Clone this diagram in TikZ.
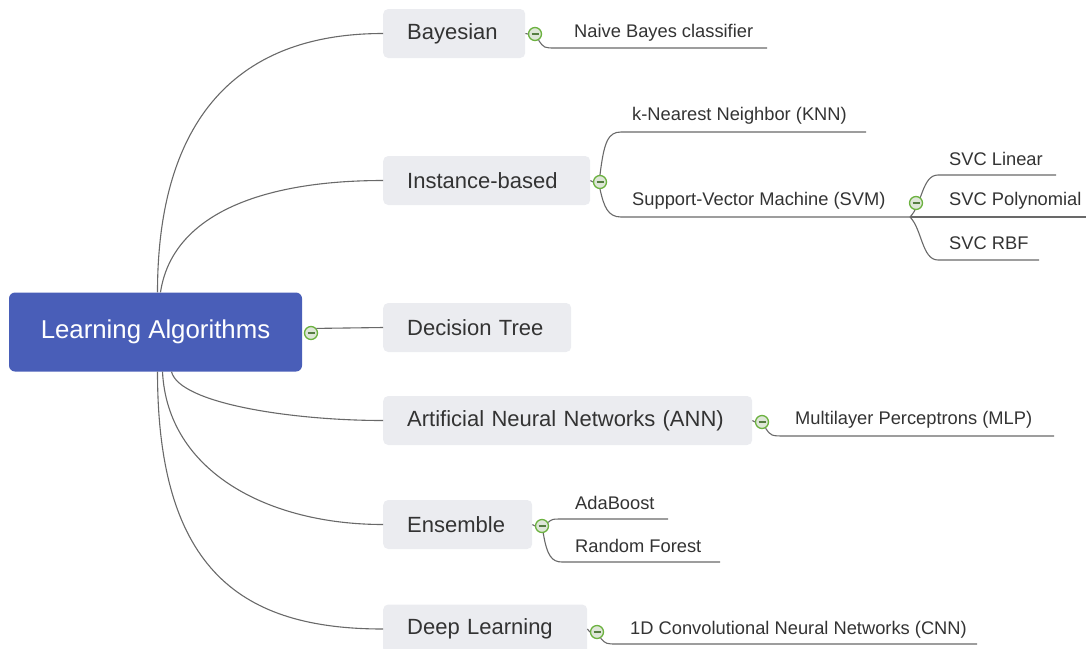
\documentclass[tikz,border=0pt]{standalone}
\usepackage{fontspec}
\setmainfont{Liberation Sans}
\usetikzlibrary{calc}
\definecolor{rootblue}{RGB}{73,94,184}
\definecolor{boxgray}{RGB}{235,236,240}
\definecolor{linegray}{RGB}{105,105,105}
\definecolor{txt}{RGB}{51,51,51}
\definecolor{collgreen}{RGB}{108,178,64}
\definecolor{collfill}{RGB}{222,230,216}
\definecolor{collminus}{RGB}{85,125,65}
\begin{document}
\begin{tikzpicture}[x=1pt,y=-1pt,
 rootbox/.style={rectangle, rounded corners=6pt, fill=rootblue, text=white, font=\fontsize{25.8}{30}\selectfont, minimum width=293pt, minimum height=79pt, inner sep=0},
 topic/.style={rectangle, rounded corners=5pt, fill=boxgray, text=txt, font=\fontsize{22}{26}\selectfont, minimum height=49pt, inner xsep=24pt, inner ysep=0pt, align=left, anchor=west},
 leaf/.style={text=txt, font=\fontsize{18.3}{22}\selectfont, inner sep=0, anchor=west, yshift=-2pt},
 conn/.style={draw=linegray, line width=1.1pt},
 coll/.style={circle, draw=collgreen, fill=collfill, line width=1.3pt, minimum size=13pt, inner sep=0,
   path picture={\draw[line width=1.3pt, draw=collminus] ([xshift=-3.5pt]path picture bounding box.center) -- ([xshift=3.5pt]path picture bounding box.center);}}
]
\useasboundingbox (0,0) rectangle (1086,648);

% root
\node[rootbox] (root) at (155.5,332) {Learning Algorithms};

% topics
\node[topic, text width=94pt]  (bay)  at (383,33.5)  {Bayesian};
\node[topic, text width=159pt] (inst) at (383,180.5) {Instance-based};
\node[topic, text width=140pt] (dt)   at (383,327.5) {Decision Tree};
\node[topic, text width=321pt] (ann)  at (383,420.5) {Artificial Neural Networks (ANN)};
\node[topic, text width=101pt] (ens)  at (383,524.5) {Ensemble};
\node[topic, text width=156pt] (deep) at (383,629)   {Deep Learning};

% main connectors
\draw[conn] ([xshift=2pt]root.north) .. controls ($(root.north)+(2,-150)$) and ($(bay.west)+(-165,0)$) .. (bay.west);
\draw[conn] ([xshift=5pt]root.north) .. controls ($(root.north)+(16.5,-77)$) and ($(inst.west)+(-123,0)$) .. (inst.west);
\draw[conn] ([xshift=16pt]root.south) .. controls ($(root.south)+(24,32)$) and ($(ann.west)+(-90,0)$) .. (ann.west);
\draw[conn] ([xshift=7pt]root.south) .. controls ($(root.south)+(12,100)$) and ($(ens.west)+(-115,0)$) .. (ens.west);
\draw[conn] ([xshift=2pt]root.south) .. controls ($(root.south)+(2,200)$) and ($(deep.west)+(-140,0)$) .. (deep.west);

\node[coll] (rc) at (311,333) {};
\draw[conn] (rc.40) -- (dt.west);

% Bayesian children
\node[coll] (bc) at (535,34) {};
\draw[conn] (bay.east) -- (bc.west);
\coordinate (b1s) at (556,48);
\coordinate (b1e) at (767,48);
\draw[conn] (bc.-60) .. controls (544,48) .. (b1s) -- (b1e);
\node[leaf] (nb) at (574,31) {Naive Bayes classifier};

% Instance-based children
\node[coll] (ic) at (600,182) {};
\draw[conn] (inst.east) -- (ic.west);
\coordinate (k1s) at (621,132);
\coordinate (k1e) at (866,132);
\coordinate (s1s) at (621,217);
\coordinate (j) at (910,217);
\draw[conn] (ic.north) .. controls (604,142) and (608,132) .. (k1s) -- (k1e);
\draw[conn] (ic.south) .. controls (604,207) and (608,217) .. (s1s) -- (j);
\node[leaf] (knn) at (632,114) {k-Nearest Neighbor (KNN)};
\node[leaf] (svm) at (632,199) {Support-Vector Machine (SVM)};

% SVM children
\coordinate (l1s) at (938,175);
\coordinate (l1e) at (1056,175);
\coordinate (p1e) at (1086,217);
\coordinate (r1s) at (938,260);
\coordinate (r1e) at (1039,260);
\draw[conn] (j) .. controls (922,205) and (922,175) .. (l1s) -- (l1e);
\draw[conn] (j) -- (p1e);
\draw[conn] (j) .. controls (922,229) and (922,260) .. (r1s) -- (r1e);
\node[coll] (sc) at (916,203) {};
\node[leaf] (svl) at (949,157) {SVC Linear};
\node[leaf] (svp) at (949,199) {SVC Polynomial};
\node[leaf] (svr) at (949,241) {SVC RBF};

% ANN children
\node[coll] (ac) at (762,422) {};
\draw[conn] (ann.east) -- (ac.west);
\coordinate (m1s) at (786,436);
\coordinate (m1e) at (1054,436);
\draw[conn] (ac.-60) .. controls (771,436) .. (m1s) -- (m1e);
\node[leaf] (mlp) at (795,418) {Multilayer Perceptrons (MLP)};

% Ensemble children
\node[coll] (ec) at (542,526) {};
\draw[conn] (ens.east) -- (ec.west);
\coordinate (a1s) at (564,519);
\coordinate (a1e) at (668,519);
\coordinate (f1s) at (562,562);
\coordinate (f1e) at (720,562);
\draw[conn] (ec.30) .. controls (552,519) .. (a1s) -- (a1e);
\draw[conn] (ec.-80) .. controls (547,556) and (552,562) .. (f1s) -- (f1e);
\node[leaf] (ada) at (575,501) {AdaBoost};
\node[leaf] (rf) at (575,544) {Random Forest};

% Deep Learning children
\node[coll] (dc) at (597,632) {};
\draw[conn] (deep.east) -- (dc.west);
\coordinate (c1s) at (618,644);
\coordinate (c1e) at (977,644);
\draw[conn] (dc.-60) .. controls (606,644) .. (c1s) -- (c1e);
\node[leaf] (cnn) at (630,628) {1D Convolutional Neural Networks (CNN)};
\end{tikzpicture}
\end{document}
